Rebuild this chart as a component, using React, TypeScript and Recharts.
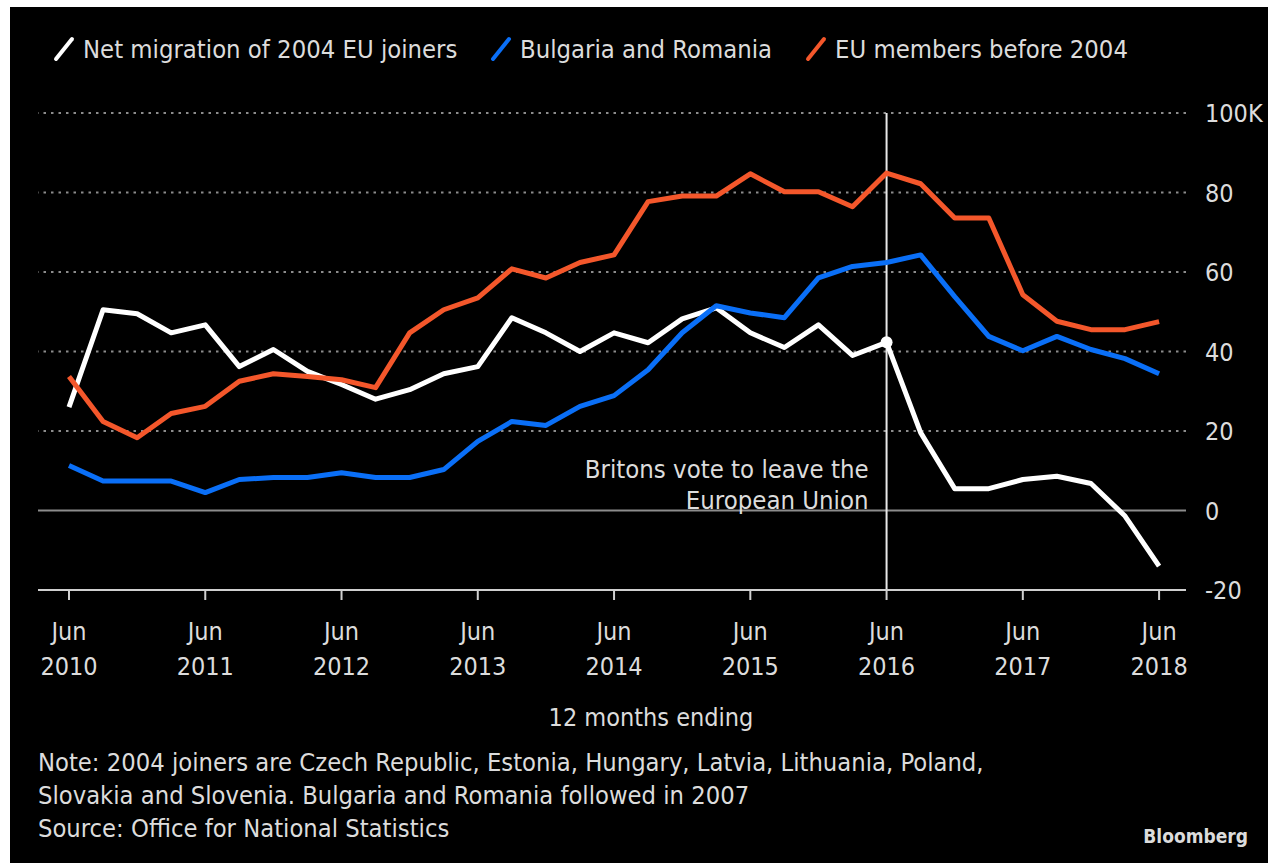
import React from 'react';
import { LineChart, Line, XAxis, YAxis, ReferenceLine, ReferenceDot } from 'recharts';

const FONT = "'DejaVu Sans Condensed', 'Liberation Sans Narrow', 'DejaVu Sans', sans-serif";
const TEXT = '#dcdcdc';
const FS = 25;

const periods = [
  'Jun 2010', 'Sep 2010', 'Dec 2010', 'Mar 2011',
  'Jun 2011', 'Sep 2011', 'Dec 2011', 'Mar 2012',
  'Jun 2012', 'Sep 2012', 'Dec 2012', 'Mar 2013',
  'Jun 2013', 'Sep 2013', 'Dec 2013', 'Mar 2014',
  'Jun 2014', 'Sep 2014', 'Dec 2014', 'Mar 2015',
  'Jun 2015', 'Sep 2015', 'Dec 2015', 'Mar 2016',
  'Jun 2016', 'Sep 2016', 'Dec 2016', 'Mar 2017',
  'Jun 2017', 'Sep 2017', 'Dec 2017', 'Mar 2018',
  'Jun 2018',
];

const joiners2004 = [26, 50.5, 49.5, 44.7, 46.7, 36.2, 40.5, 35, 31.7, 28, 30.4, 34.4, 36.2, 48.5, 44.7, 40, 44.7, 42.2, 48.2, 51, 44.7, 41, 46.7, 39, 42.3, 19.6, 5.5, 5.5, 7.8, 8.6, 6.8, -1.4, -14];
const bulgariaRomania = [11.3, 7.4, 7.4, 7.4, 4.5, 7.8, 8.3, 8.3, 9.5, 8.3, 8.3, 10.3, 17.4, 22.4, 21.4, 26.2, 28.9, 35.4, 44.7, 51.5, 49.7, 48.5, 58.5, 61.4, 62.4, 64.3, 53.8, 43.8, 40.2, 43.8, 40.5, 38.2, 34.4];
const euBefore2004 = [33.7, 22.4, 18.3, 24.4, 26.2, 32.5, 34.4, 33.7, 32.9, 30.9, 44.7, 50.5, 53.5, 60.8, 58.5, 62.4, 64.3, 77.7, 79.1, 79.1, 84.7, 80.2, 80.2, 76.4, 84.9, 82.2, 73.6, 73.6, 54.3, 47.6, 45.5, 45.5, 47.5];

const xTicks = [0, 4, 8, 12, 16, 20, 24, 28, 32];
const xTickYears = ['2010', '2011', '2012', '2013', '2014', '2015', '2016', '2017', '2018'];
const yTicks = [-20, 0, 20, 40, 60, 80, 100];
const gridValues = [20, 40, 60, 80, 100];
const brexitIndex = 24;

const seriesNames = ['Net migration of 2004 EU joiners', 'Bulgaria and Romania', 'EU members before 2004'];
const seriesColors = ['#ffffff', '#0a6ff7', '#f4572b'];

const data = periods.map((p, i) => ({
  i,
  period: p,
  joiners: joiners2004[i],
  bgro: bulgariaRomania[i],
  eu: euBefore2004[i],
}));

const XTick = (props: any) => {
  const { x, y, payload } = props;
  const idx = xTicks.indexOf(payload.value);
  return (
    <g>
      <text x={x} y={y + 38} textAnchor="middle" fill={TEXT} fontSize={FS} fontFamily={FONT}>Jun</text>
      <text x={x} y={y + 73} textAnchor="middle" fill={TEXT} fontSize={FS} fontFamily={FONT}>{xTickYears[idx]}</text>
    </g>
  );
};

const YTick = (props: any) => {
  const { x, y, payload } = props;
  const label = payload.value === 100 ? '100K' : String(payload.value);
  return (
    <text x={x + 19} y={y + 9} textAnchor="start" fill={TEXT} fontSize={FS} fontFamily={FONT}>{label}</text>
  );
};

const AnnotationLabel = (props: any) => {
  const { viewBox } = props;
  const x = viewBox.x - 18;
  return (
    <g>
      <text x={x} y={viewBox.y + 365} textAnchor="end" fill={TEXT} fontSize={25.5} fontFamily={FONT}>Britons vote to leave the</text>
      <text x={x} y={viewBox.y + 396} textAnchor="end" fill={TEXT} fontSize={25.5} fontFamily={FONT}>European Union</text>
    </g>
  );
};

const legendLefts = [53, 490, 805];

export default function App() {
  return (
    <div style={{ position: 'absolute', left: 0, top: 0, width: 1268, height: 863, background: '#fff', overflow: 'hidden' }}>
      <div style={{ position: 'absolute', left: 10, top: 7, width: 1258, height: 856, background: '#000' }} />
      {seriesNames.map((name, k) => (
        <div key={name} style={{ position: 'absolute', left: legendLefts[k], top: 34, height: 30, display: 'flex', alignItems: 'center', fontFamily: FONT, fontSize: 25.4, color: TEXT, whiteSpace: 'nowrap' }}>
          <svg width={22} height={26} style={{ marginRight: 8 }}>
            <line x1={3} y1={23} x2={19} y2={3} stroke={seriesColors[k]} strokeWidth={4} strokeLinecap="round" />
          </svg>
          <span>{name}</span>
        </div>
      ))}
      <div style={{ position: 'absolute', left: 0, top: 0 }}>
        <LineChart width={1268} height={863} data={data} margin={{ top: 113, right: 0, bottom: 0, left: 38 }}>
          <XAxis
            dataKey="i"
            type="number"
            domain={[-0.91, 32.79]}
            ticks={xTicks}
            allowDataOverflow
            height={273}
            tickSize={10}
            tickMargin={2}
            axisLine={{ stroke: '#cfcfcf', strokeWidth: 2 }}
            tickLine={{ stroke: '#cfcfcf', strokeWidth: 2 }}
            tick={<XTick />}
            interval={0}
          />
          <YAxis
            orientation="right"
            type="number"
            domain={[-20, 100]}
            ticks={yTicks}
            width={82}
            axisLine={false}
            tickLine={false}
            tickSize={0}
            tickMargin={0}
            tick={<YTick />}
            interval={0}
          />
          {gridValues.map((v) => (
            <ReferenceLine key={v} y={v} stroke="#8c8c8c" strokeWidth={2} strokeDasharray="2.5 5" />
          ))}
          <ReferenceLine y={0} stroke="#8c8c8c" strokeWidth={2} />
          <ReferenceLine x={brexitIndex} stroke="#e8e8e8" strokeWidth={2} label={<AnnotationLabel />} />
          <Line dataKey="joiners" stroke={seriesColors[0]} strokeWidth={5} dot={false} isAnimationActive={false} strokeLinejoin="round" />
          <Line dataKey="bgro" stroke={seriesColors[1]} strokeWidth={5} dot={false} isAnimationActive={false} strokeLinejoin="round" />
          <Line dataKey="eu" stroke={seriesColors[2]} strokeWidth={5} dot={false} isAnimationActive={false} strokeLinejoin="round" />
          <ReferenceDot x={brexitIndex} y={joiners2004[brexitIndex]} r={6} fill="#ffffff" stroke="none" />
        </LineChart>
      </div>
      <div style={{ position: 'absolute', left: 0, width: 1302, top: 703, textAlign: 'center', fontFamily: FONT, fontSize: FS, color: TEXT }}>12 months ending</div>
      <div style={{ position: 'absolute', left: 38, top: 746, fontFamily: FONT, fontSize: 25.3, lineHeight: '33px', color: TEXT, whiteSpace: 'nowrap' }}>
        <div>Note: 2004 joiners are Czech Republic, Estonia, Hungary, Latvia, Lithuania, Poland,</div>
        <div>Slovakia and Slovenia. Bulgaria and Romania followed in 2007</div>
        <div>Source: Office for National Statistics</div>
      </div>
      <div style={{ position: 'absolute', right: 20, top: 825, fontFamily: FONT, fontSize: 19, fontWeight: 'bold', color: TEXT }}>Bloomberg</div>
    </div>
  );
}
